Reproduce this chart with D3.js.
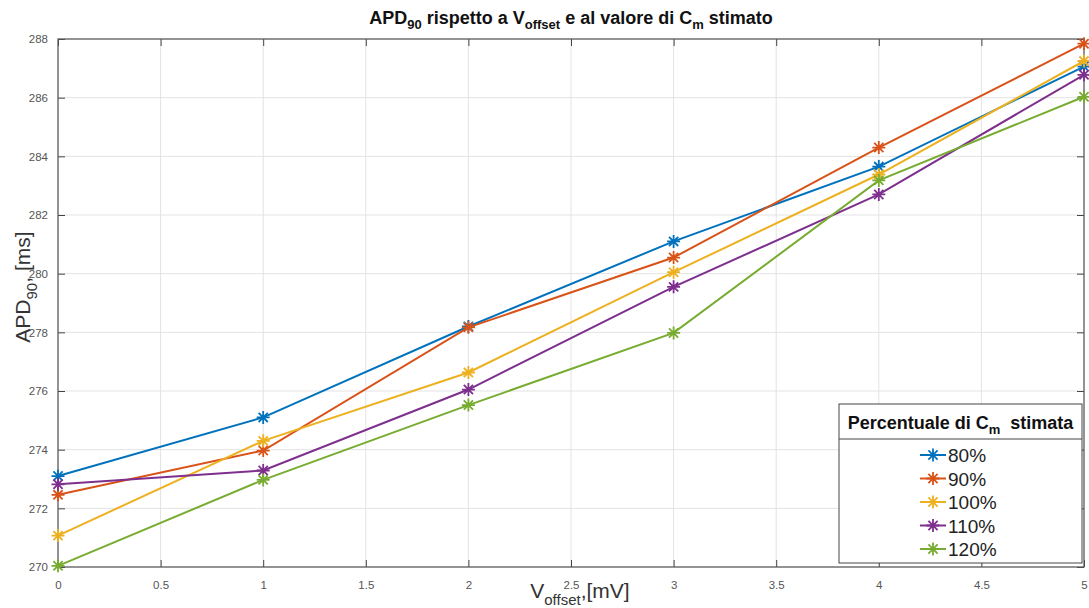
<!DOCTYPE html>
<html>
<head>
<meta charset="utf-8">
<script src="https://cdn.jsdelivr.net/npm/d3@7"></script>
<style>
body { margin: 0; background: #fff; }
svg { font-family: "Liberation Sans", Arial, sans-serif; }
</style>
</head>
<body>
<div id="chart"></div>
<script>
var width = 1089;
var height = 608;

// data
var offsets = [0, 1, 2, 3, 4, 5];
var series_names = ["80%", "90%", "100%", "110%", "120%"];
var apd_80 = [273.1, 275.1, 278.2, 281.1, 283.65, 287.06];
var apd_90 = [272.46, 273.97, 278.17, 280.55, 284.3, 287.84];
var apd_100 = [271.07, 274.3, 276.63, 280.05, 283.38, 287.25];
var apd_110 = [272.82, 273.29, 276.05, 279.55, 282.7, 286.78];
var apd_120 = [270.04, 272.97, 275.52, 277.98, 283.18, 286.03];
var colors = ["#0072BD", "#D95319", "#EDB120", "#7E2F8E", "#77AC30"];
var x_ticks = [0, 0.5, 1, 1.5, 2, 2.5, 3, 3.5, 4, 4.5, 5];
var y_ticks = [270, 272, 274, 276, 278, 280, 282, 284, 286, 288];

var all_series = [apd_80, apd_90, apd_100, apd_110, apd_120];

var margin = {top: 39, right: 5, bottom: 41, left: 58};
var plot_w = width - margin.left - margin.right;
var plot_h = height - margin.top - margin.bottom;

var svg = d3.select("#chart").append("svg")
	.attr("width", width)
	.attr("height", height);

var x = d3.scaleLinear().domain([0, 5]).range([margin.left, margin.left + plot_w]);
var y = d3.scaleLinear().domain([270, 288]).range([margin.top + plot_h, margin.top]);

// grid
svg.append("g").selectAll("line")
	.data(x_ticks).enter().append("line")
	.attr("x1", d => x(d)).attr("x2", d => x(d))
	.attr("y1", margin.top).attr("y2", margin.top + plot_h)
	.attr("stroke", "#e3e3e3").attr("stroke-width", 1);
svg.append("g").selectAll("line")
	.data(y_ticks).enter().append("line")
	.attr("y1", d => y(d)).attr("y2", d => y(d))
	.attr("x1", margin.left).attr("x2", margin.left + plot_w)
	.attr("stroke", "#e3e3e3").attr("stroke-width", 1);

// axes, ticks pointing inward (matlab style)
var tick_font = 11.5;
svg.append("g")
	.attr("transform", "translate(0," + (margin.top + plot_h) + ")")
	.call(d3.axisBottom(x).tickValues(x_ticks).tickSize(-7).tickPadding(14).tickFormat(d3.format("")))
	.call(g => g.select(".domain").remove())
	.call(g => g.selectAll("line").attr("stroke", "#444"))
	.call(g => g.selectAll("text").attr("fill", "#555").style("font-size", tick_font + "px"));
svg.append("g")
	.attr("transform", "translate(" + margin.left + ",0)")
	.call(d3.axisLeft(y).tickValues(y_ticks).tickSize(-7).tickPadding(10))
	.call(g => g.select(".domain").remove())
	.call(g => g.selectAll("line").attr("stroke", "#444"))
	.call(g => g.selectAll("text").attr("fill", "#555").style("font-size", tick_font + "px"));
svg.append("g")
	.attr("transform", "translate(0," + margin.top + ")")
	.call(d3.axisTop(x).tickValues(x_ticks).tickSize(-7).tickFormat(""))
	.call(g => g.select(".domain").remove())
	.call(g => g.selectAll("line").attr("stroke", "#444"));
svg.append("g")
	.attr("transform", "translate(" + (margin.left + plot_w) + ",0)")
	.call(d3.axisRight(y).tickValues(y_ticks).tickSize(-7).tickFormat(""))
	.call(g => g.select(".domain").remove())
	.call(g => g.selectAll("line").attr("stroke", "#444"));

svg.append("rect")
	.attr("x", margin.left).attr("y", margin.top)
	.attr("width", plot_w).attr("height", plot_h)
	.attr("fill", "none").attr("stroke", "#555").attr("stroke-width", 1.2);

// asterisk marker: plus + cross
function star(r) {
	var d = r * 0.7071;
	return "M" + (-r) + ",0L" + r + ",0M0," + (-r) + "L0," + r +
		"M" + (-d) + "," + (-d) + "L" + d + "," + d +
		"M" + (-d) + "," + d + "L" + d + "," + (-d);
}

var line = d3.line()
	.x((d, i) => x(offsets[i]))
	.y(d => y(d));

all_series.forEach(function(vals, k) {
	var g = svg.append("g").attr("class", "series");
	g.append("path")
		.datum(vals)
		.attr("d", line)
		.attr("fill", "none")
		.attr("stroke", colors[k])
		.attr("stroke-width", 2);
	g.selectAll("path.mark")
		.data(vals).enter().append("path")
		.attr("class", "mark")
		.attr("transform", (d, i) => "translate(" + x(offsets[i]) + "," + y(d) + ")")
		.attr("d", star(6.5))
		.attr("fill", "none")
		.attr("stroke", colors[k])
		.attr("stroke-width", 1.8);
});

// title
var title = svg.append("text")
	.attr("x", margin.left + plot_w / 2)
	.attr("y", 24)
	.attr("text-anchor", "middle")
	.style("font-size", "18px")
	.style("font-weight", "bold")
	.attr("fill", "#111");
title.append("tspan").text("APD");
title.append("tspan").attr("dy", 5).style("font-size", "13px").text("90");
title.append("tspan").attr("dy", -5).text(" rispetto a V");
title.append("tspan").attr("dy", 5).style("font-size", "13px").text("offset");
title.append("tspan").attr("dy", -5).text(" e al valore di C");
title.append("tspan").attr("dy", 5).style("font-size", "13px").text("m");
title.append("tspan").attr("dy", -5).text(" stimato");

// x label
var xl = svg.append("text")
	.attr("x", 580)
	.attr("y", 598)
	.attr("text-anchor", "middle")
	.style("font-size", "21px")
	.attr("fill", "#333");
xl.append("tspan").text("V");
xl.append("tspan").attr("dy", 7).style("font-size", "15px").text("offset");
xl.append("tspan").attr("dy", -7).text(",[mV]");

// y label
var yl = svg.append("text")
	.attr("transform", "translate(30,287) rotate(-90)")
	.attr("text-anchor", "middle")
	.style("font-size", "21px")
	.attr("fill", "#333");
yl.append("tspan").text("APD");
yl.append("tspan").attr("dy", 7).style("font-size", "15px").text("90");
yl.append("tspan").attr("dy", -7).text(",");
yl.append("tspan").attr("dx", 6).text("[ms]");

// legend
var lx = 839, ly = 404, lw = 243, lh = 159;
var legend = svg.append("g").attr("class", "legend");
legend.append("rect")
	.attr("x", lx).attr("y", ly).attr("width", lw).attr("height", lh)
	.attr("fill", "#fff").attr("stroke", "#444").attr("stroke-width", 1);
legend.append("line")
	.attr("x1", lx).attr("x2", lx + lw)
	.attr("y1", ly + 35).attr("y2", ly + 35)
	.attr("stroke", "#444");
var lt = legend.append("text")
	.attr("x", lx + lw / 2).attr("y", ly + 25)
	.attr("text-anchor", "middle")
	.style("font-size", "18px").style("font-weight", "bold")
	.style("white-space", "pre")
	.attr("fill", "#111");
lt.append("tspan").text("Percentuale di C");
lt.append("tspan").attr("dy", 5).style("font-size", "13px").text("m");
lt.append("tspan").attr("dy", -5).text("  stimata");

var item_y = d3.scalePoint().domain(series_names).range([ly + 51, ly + 145]);
series_names.forEach(function(name, k) {
	var yy = item_y(name);
	legend.append("line")
		.attr("x1", 920).attr("x2", 946)
		.attr("y1", yy).attr("y2", yy)
		.attr("stroke", colors[k]).attr("stroke-width", 2);
	legend.append("path")
		.attr("transform", "translate(933," + yy + ")")
		.attr("d", star(6.5))
		.attr("fill", "none").attr("stroke", colors[k]).attr("stroke-width", 1.8);
	legend.append("text")
		.attr("x", 948).attr("y", yy + 7)
		.style("font-size", "19px")
		.attr("fill", "#222")
		.text(name);
});
</script>
</body>
</html>
